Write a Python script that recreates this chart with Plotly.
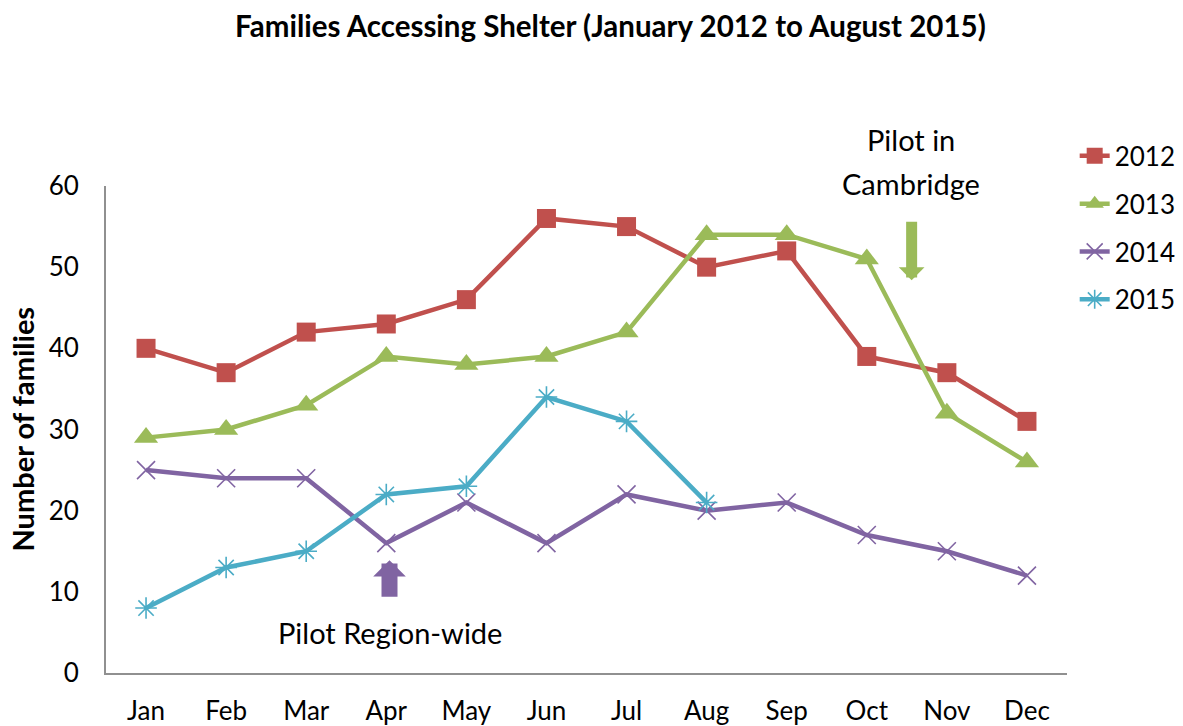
import plotly.graph_objects as go

months = ["Jan", "Feb", "Mar", "Apr", "May", "Jun", "Jul", "Aug", "Sep", "Oct", "Nov", "Dec"]
y2012 = [40, 37, 42, 43, 46, 56, 55, 50, 52, 39, 37, 31]
y2013 = [29, 30, 33, 39, 38, 39, 42, 54, 54, 51, 32, 26]
y2014 = [25, 24, 24, 16, 21, 16, 22, 20, 21, 17, 15, 12]
y2015 = [8, 13, 15, 22, 23, 34, 31, 21]

FONT = "Lato, 'Open Sans', sans-serif"
FS = 26
LW = 4.5

fig = go.Figure()
fig.add_trace(go.Scatter(x=months, y=y2012, name="2012", mode="lines+markers",
                         legendgroup="a",
                         line=dict(color="#C0504D", width=LW),
                         marker=dict(symbol="square", size=19, color="#C0504D")))
fig.add_trace(go.Scatter(x=months, y=y2013, name="2013", mode="lines+markers",
                         legendgroup="b",
                         line=dict(color="#9BBB59", width=LW),
                         marker=dict(symbol="triangle-up", size=21, color="#9BBB59")))
fig.add_trace(go.Scatter(x=months, y=y2014, name="2014", mode="lines+markers",
                         legendgroup="c",
                         line=dict(color="#8064A2", width=LW),
                         marker=dict(symbol="x-thin-open", size=18, color="#8064A2",
                                     line=dict(color="#8064A2", width=1.6))))
fig.add_trace(go.Scatter(x=months[:len(y2015)], y=y2015, name="2015", mode="lines+markers",
                         legendgroup="d",
                         line=dict(color="#4BACC6", width=LW),
                         marker=dict(symbol="asterisk-open", size=18, color="#4BACC6",
                                     line=dict(color="#4BACC6", width=1.6))))

# block arrows
fig.add_annotation(x=9.56, y=48.4, xref="x", yref="y", ax=0, ay=-60,
                   showarrow=True, arrowhead=1, arrowsize=0.39, arrowwidth=11,
                   arrowcolor="#9BBB59", text="")
fig.add_annotation(x=3.04, y=13.9, xref="x", yref="y", ax=0, ay=38,
                   showarrow=True, arrowhead=1, arrowsize=0.34, arrowwidth=16,
                   arrowcolor="#8064A2", text="")
# annotation texts
fig.add_annotation(x=9.55, y=1.0945, xref="x", yref="paper", yanchor="middle",
                   text="Pilot in", showarrow=False,
                   font=dict(family=FONT, size=29, color="black"))
fig.add_annotation(x=9.55, y=1.006, xref="x", yref="paper", yanchor="middle",
                   text="Cambridge", showarrow=False,
                   font=dict(family=FONT, size=29, color="black"))
fig.add_annotation(x=3.05, y=5.05, xref="x", yref="y", yanchor="middle",
                   text="Pilot Region-wide", showarrow=False,
                   font=dict(family=FONT, size=29, color="black"))
# y-axis title
fig.add_annotation(x=-0.0874, y=0.5, xref="paper", yref="paper", textangle=-90,
                   xanchor="center", yanchor="middle",
                   text="<b>Number of families</b>", showarrow=False,
                   font=dict(family=FONT, size=29, color="black"))

fig.update_layout(
    width=1183, height=726,
    margin=dict(l=106, r=116, t=186, b=53, autoexpand=False),
    paper_bgcolor="white", plot_bgcolor="white",
    title=dict(text="<b>Families Accessing Shelter (January 2012 to August 2015)</b>",
               x=0.516, xanchor="center", y=0.963, yanchor="middle",
               font=dict(family=FONT, size=29.5, color="black")),
    font=dict(family=FONT, color="black"),
    legend=dict(x=1.008, xanchor="left", y=1.11, yanchor="top",
                font=dict(family=FONT, size=FS, color="black"),
                tracegroupgap=11, bgcolor="rgba(0,0,0,0)"),
    showlegend=True,
)
fig.update_xaxes(type="category", range=[-0.5, 11.5], showgrid=False, automargin=False,
                 showline=True, linecolor="#909090", linewidth=2,
                 ticks="", tickfont=dict(family=FONT, size=FS, color="black"),
                 ticklabelstandoff=14, zeroline=False)
fig.update_yaxes(range=[0, 60], dtick=10, showgrid=False, automargin=False,
                 showline=True, linecolor="#909090", linewidth=2,
                 ticks="", tickfont=dict(family=FONT, size=FS, color="black"),
                 ticklabelstandoff=20, zeroline=False)

fig.write_html("out.html")
